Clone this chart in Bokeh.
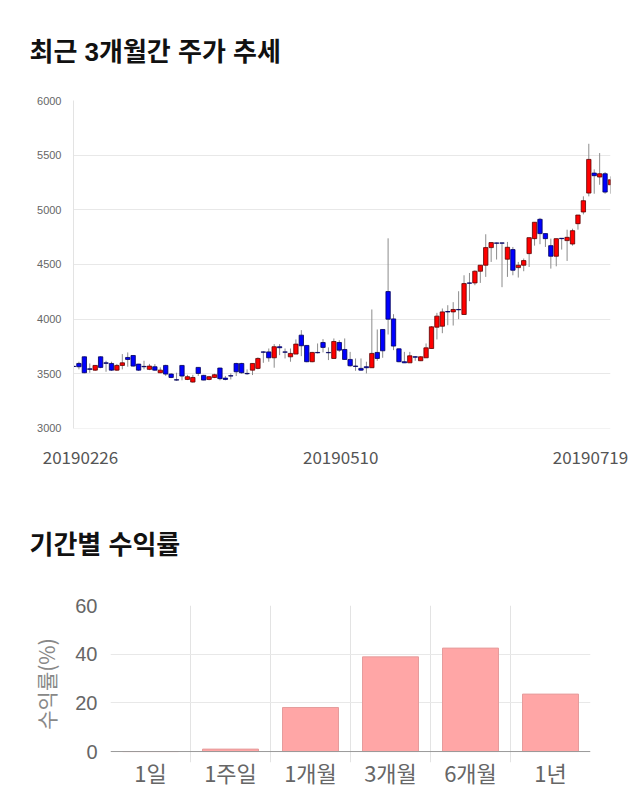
from bokeh.plotting import figure
from bokeh.models import Range1d, FixedTicker, ColumnDataSource, Span
from bokeh.embed import file_html
from bokeh.resources import INLINE

# ---------------- data: daily candles (index 0 = 2019-02-26, index 99 = 2019-07-19)
opens = [3568, 3594, 3655, 3545, 3533, 3655, 3600, 3594, 3533, 3576,
         3649, 3667, 3588, 3567, 3540, 3564, 3509, 3576, 3497, 3445,
         3576, 3448, 3424, 3558, 3485, 3448, 3466, 3552, 3460, 3482,
         3594, 3594, 3503, 3533, 3549, 3700, 3700, 3646, 3747, 3700,
         3655, 3680, 3853, 3759, 3610, 3695, 3786, 3695, 3640, 3786,
         3722, 3631, 3570, 3549, 3564, 3555, 3695, 3905, 4252, 4002,
         3728, 3610, 3600, 3655, 3619, 3646, 3731, 3926, 3935, 4069,
         4066, 4088, 4042, 4331, 4331, 4438, 4493, 4654, 4697, 4697,
         4548, 4636, 4471, 4493, 4599, 4736, 4913, 4782, 4672, 4575,
         4739, 4718, 4687, 4873, 4980, 5153, 5336, 5300, 5330, 5229]
highs = [3572, 3610, 3658, 3594, 3580, 3660, 3619, 3610, 3590, 3680,
         3695, 3670, 3590, 3619, 3590, 3588, 3558, 3582, 3505, 3509,
         3580, 3490, 3490, 3560, 3490, 3480, 3500, 3555, 3480, 3503,
         3600, 3600, 3540, 3594, 3650, 3705, 3731, 3771, 3771, 3731,
         3731, 3814, 3899, 3760, 3700, 3777, 3817, 3741, 3823, 3807,
         3823, 3700, 3640, 3640, 3610, 4088, 3905, 3905, 4739, 4045,
         3730, 3700, 3700, 3661, 3661, 3777, 3935, 4057, 4097, 4127,
         4155, 4255, 4401, 4422, 4447, 4493, 4776, 4700, 4700, 4700,
         4706, 4660, 4523, 4554, 4745, 4886, 4926, 4782, 4736, 4736,
         4739, 4818, 4827, 4952, 5123, 5604, 5370, 5519, 5345, 5306]
lows = [3564, 3540, 3505, 3509, 3525, 3550, 3518, 3525, 3525, 3540,
        3564, 3565, 3525, 3540, 3533, 3527, 3505, 3480, 3460, 3436,
        3440, 3442, 3418, 3480, 3440, 3440, 3460, 3440, 3440, 3448,
        3479, 3500, 3490, 3488, 3540, 3600, 3610, 3555, 3670, 3640,
        3610, 3680, 3661, 3605, 3605, 3686, 3695, 3625, 3640, 3700,
        3630, 3564, 3527, 3527, 3503, 3555, 3619, 3646, 3859, 3716,
        3605, 3600, 3600, 3619, 3616, 3646, 3731, 3814, 3871, 3944,
        3941, 3999, 4042, 4164, 4310, 4331, 4386, 4523, 4545, 4292,
        4386, 4401, 4380, 4438, 4477, 4672, 4685, 4660, 4462, 4483,
        4636, 4532, 4672, 4818, 4958, 5123, 5147, 5229, 5147, 5147]
closes = [3566, 3564, 3509, 3540, 3576, 3558, 3595, 3533, 3576, 3600,
          3631, 3570, 3533, 3564, 3570, 3533, 3533, 3497, 3466, 3442,
          3479, 3473, 3466, 3503, 3442, 3473, 3491, 3455, 3448, 3479,
          3518, 3509, 3500, 3594, 3640, 3697, 3646, 3747, 3738, 3697,
          3686, 3771, 3756, 3610, 3695, 3692, 3741, 3692, 3795, 3716,
          3631, 3573, 3567, 3533, 3555, 3686, 3640, 3710, 3999, 3753,
          3610, 3600, 3664, 3652, 3655, 3737, 3929, 4027, 4066, 4066,
          4088, 4085, 4325, 4328, 4438, 4493, 4654, 4700, 4694, 4695,
          4657, 4447, 4493, 4535, 4745, 4886, 4782, 4736, 4575, 4736,
          4736, 4748, 4809, 4952, 5083, 5461, 5312, 5330, 5162, 5275]
date_ticks = [0, 50, 99]
date_labels = ["20190226", "20190510", "20190719"]

# ---------------- data: returns by period
periods = ["1일", "1주일", "1개월", "3개월", "6개월", "1년"]
returns = [0.0, 1.0, 18.1, 38.9, 42.5, 23.6]

FONT_KR = "Noto Sans CJK KR"
FONT_TITLE = "Liberation Sans, Noto Sans CJK KR"

# ================= candlestick chart
n = len(opens)
idx = list(range(n))
body_top = [max(o, c) for o, c in zip(opens, closes)]
body_bot = [min(o, c) for o, c in zip(opens, closes)]
fills = ["#ff0000" if c > o else "#0000ff" for o, c in zip(opens, closes)]
edges = ["#5a0000" if c > o else "#00005a" for o, c in zip(opens, closes)]
src = ColumnDataSource(dict(x=idx, o=opens, h=highs, l=lows, c=closes,
                            top=body_top, bot=body_bot, fill=fills, edge=edges))

FRAME_W1 = 537
p1 = figure(width=640, height=480, output_backend="svg", toolbar_location=None,
            x_range=Range1d(0, n - 1), y_range=Range1d(2999, 6000),
            min_border_left=73, min_border_right=30, min_border_top=100,
            min_border_bottom=52, title="최근 3개월간 주가 추세")
p1.outline_line_color = None
p1.title.text_font = FONT_TITLE
p1.title.text_font_size = "26px"
p1.title.text_font_style = "bold"
p1.title.text_color = "#111111"
p1.title.align = "left"
p1.title.offset = -44
p1.title.standoff = 67

p1.segment(x0="x", y0="l", x1="x", y1="h", source=src, line_color="#8c8c8c", line_width=1)
p1.vbar(x="x", width=0.8, top="top", bottom="bot", source=src,
        fill_color="fill", line_color="edge", line_width=0.8)

# date labels: edge labels are kept inside the canvas (label shift in px)
label_shift_px = [7, -4, -20]
px_per_day = FRAME_W1 / (n - 1)
label_pos = [round(t + s / px_per_day, 3) for t, s in zip(date_ticks, label_shift_px)]
p1.xaxis.ticker = FixedTicker(ticks=label_pos)
p1.xaxis.major_label_overrides = {v: s for v, s in zip(label_pos, date_labels)}
p1.xaxis.axis_line_color = None
p1.xaxis.major_tick_line_color = None
p1.xaxis.minor_tick_line_color = None
p1.xaxis.major_label_text_font = FONT_KR
p1.xaxis.major_label_text_font_size = "17px"
p1.xaxis.major_label_text_color = "#555555"
p1.xaxis.major_label_standoff = 16
p1.xgrid.visible = False

p1.yaxis.ticker = FixedTicker(ticks=[3000, 3500, 4000, 4500, 5000, 5500, 6000])
p1.yaxis.major_tick_line_color = None
p1.yaxis.minor_tick_line_color = None
p1.yaxis.axis_line_color = "#e3e3e3"
p1.yaxis.major_label_text_font = "Liberation Sans"
p1.yaxis.major_label_text_font_size = "11px"
p1.yaxis.major_label_text_color = "#666666"
p1.yaxis.major_label_standoff = 6
p1.ygrid.ticker = FixedTicker(ticks=[3000, 3500, 4000, 4500, 5000, 5500, 6000])
p1.ygrid.grid_line_color = "#e8e8e8"

# ================= returns bar chart
pos = [i + 0.5 for i in range(len(periods))]
p2 = figure(width=640, height=330, output_backend="svg", toolbar_location=None,
            x_range=Range1d(0, len(periods)), y_range=Range1d(-4.5, 60),
            min_border_left=110, min_border_right=50, min_border_top=125,
            min_border_bottom=48, title="기간별 수익률")
p2.outline_line_color = None
p2.title.text_font = FONT_TITLE
p2.title.text_font_size = "26px"
p2.title.text_font_style = "bold"
p2.title.text_color = "#111111"
p2.title.align = "left"
p2.title.offset = -81
p2.title.standoff = 91

p2.vbar(x=pos, top=returns, bottom=0, width=0.7,
        fill_color="#ffa6a6", line_color="#e59c9c", line_width=1)

p2.xgrid.ticker = FixedTicker(ticks=list(range(len(periods))))
p2.xgrid.grid_line_color = "#e3e3e3"
p2.ygrid.ticker = FixedTicker(ticks=[20, 40, 60])
p2.ygrid.grid_line_color = "#e8e8e8"
p2.add_layout(Span(location=0, dimension="width", line_color="#999999",
                   line_width=1, level="overlay"))

p2.xaxis.ticker = FixedTicker(ticks=pos)
p2.xaxis.major_label_overrides = {v: s for v, s in zip(pos, periods)}
p2.xaxis.axis_line_color = None
p2.xaxis.major_tick_line_color = None
p2.xaxis.minor_tick_line_color = None
p2.xaxis.major_label_text_font = FONT_KR
p2.xaxis.major_label_text_font_size = "22px"
p2.xaxis.major_label_text_color = "#666666"
p2.xaxis.major_label_standoff = -13

p2.yaxis.ticker = FixedTicker(ticks=[0, 20, 40, 60])
p2.yaxis.axis_line_color = None
p2.yaxis.major_tick_line_color = None
p2.yaxis.minor_tick_line_color = None
p2.yaxis.major_label_text_font = "Liberation Sans"
p2.yaxis.major_label_text_font_size = "20px"
p2.yaxis.major_label_text_color = "#666666"
p2.yaxis.major_label_standoff = 7
p2.yaxis.axis_label = "수익률(%)"
p2.yaxis.axis_label_text_font = FONT_KR
p2.yaxis.axis_label_text_font_size = "21px"
p2.yaxis.axis_label_text_font_style = "normal"
p2.yaxis.axis_label_text_color = "#888888"
p2.yaxis.axis_label_standoff = 11

open("out.html", "w").write(file_html([p1, p2], INLINE))
